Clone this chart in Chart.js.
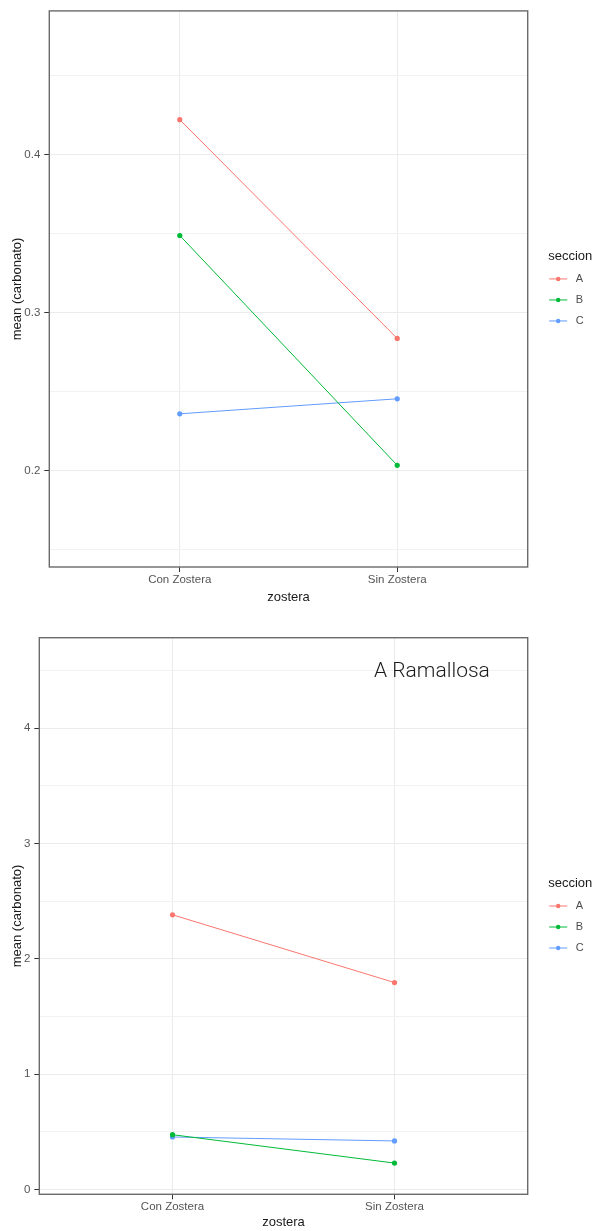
<!DOCTYPE html>
<html>
<head>
<meta charset="utf-8">
<script src="https://cdn.jsdelivr.net/npm/chart.js@4/dist/chart.umd.min.js"></script>
<style>
  html, body { margin: 0; padding: 0; background: #ffffff; }
  body { width: 596px; height: 1231px; position: relative; overflow: hidden; }
  canvas { position: absolute; left: 0; }
  #c1 { top: 0; }
  #c2 { top: 605px; }
</style>
</head>
<body>
<canvas id="c1" width="596" height="605"></canvas>
<canvas id="c2" width="596" height="626"></canvas>
<script>
// ---- data ----
const categories = ['Con Zostera', 'Sin Zostera'];
const seriesNames = ['A', 'B', 'C'];
const seriesColors = ['#F8766D', '#00BA38', '#619CFF'];

// Top chart values
const topA = [0.422, 0.2835];
const topB = [0.3487, 0.2032];
const topC = [0.2358, 0.2453];
// Bottom chart (A Ramallosa) values
const botA = [2.382, 1.794];
const botB = [0.474, 0.228];
const botC = [0.454, 0.420];

// Tick values (major labelled, minor unlabelled)
const topYTicks = [0.15, 0.2, 0.25, 0.3, 0.35, 0.4, 0.45];
const topYLabels = ['', '0.2', '', '0.3', '', '0.4', ''];
const botYTicks = [0, 0.5, 1, 1.5, 2, 2.5, 3, 3.5, 4, 4.5];
const botYLabels = ['0', '', '1', '', '2', '', '3', '', '4', ''];

const xTitle = 'zostera';
const yTitle = 'mean (carbonato)';
const legendTitle = 'seccion';
const panelLabel = 'A Ramallosa';

const FONT = "'Liberation Sans', Arial, sans-serif";

function makeDatasets(values) {
  return values.map((vals, si) => ({
    label: seriesNames[si],
    data: vals.map((v, ci) => ({ x: ci + 1, y: v })),
    borderColor: seriesColors[si],
    backgroundColor: seriesColors[si],
    borderWidth: 1,
    pointRadius: 2.6,
    pointBorderWidth: 0,
    pointBackgroundColor: seriesColors[si],
    tension: 0,
    fill: false
  }));
}

const frameLegendPlugin = {
  id: 'frameLegend',
  afterDraw(chart) {
    const ctx = chart.ctx;
    const a = chart.chartArea;
    // panel border
    ctx.save();
    ctx.strokeStyle = '#6a6a6a';
    ctx.lineWidth = 1.4;
    ctx.strokeRect(a.left, a.top, a.right - a.left, a.bottom - a.top);
    // legend
    const cy = (a.top + a.bottom) / 2;
    const lx = a.right + 20.5;
    ctx.fillStyle = '#1a1a1a';
    ctx.font = '13px ' + FONT;
    ctx.textBaseline = 'middle';
    ctx.textAlign = 'left';
    ctx.fillText(legendTitle, lx, cy - 33);
    chart.data.datasets.forEach((ds, i) => {
      const y = cy - 10 + i * 21;
      ctx.strokeStyle = ds.borderColor;
      ctx.lineWidth = 1;
      ctx.beginPath();
      ctx.moveTo(lx + 1, y);
      ctx.lineTo(lx + 19, y);
      ctx.stroke();
      ctx.fillStyle = ds.borderColor;
      ctx.beginPath();
      ctx.arc(lx + 10, y, 2.2, 0, Math.PI * 2);
      ctx.fill();
      ctx.fillStyle = '#4d4d4d';
      ctx.font = '11px ' + FONT;
      ctx.fillText(ds.label, lx + 27.5, y);
    });
    // optional panel label
    const pl = chart.options.plugins.frameLegend && chart.options.plugins.frameLegend.label;
    if (pl) {
      ctx.fillStyle = '#1a1a1a';
      ctx.font = '300 21px Roboto, ' + FONT;
      ctx.textAlign = 'left';
      ctx.textBaseline = 'middle';
      ctx.fillText(pl.text, pl.x, pl.y);
    }
    ctx.restore();
  }
};

function makeChart(id, values, yMin, yMax, yTicks, yLabels, geom, label) {
  return new Chart(document.getElementById(id), {
    type: 'line',
    data: { datasets: makeDatasets(values) },
    plugins: [frameLegendPlugin],
    options: {
      responsive: false,
      animation: false,
      events: [],
      layout: { padding: { left: 0, top: geom.top, right: geom.right, bottom: 0 } },
      plugins: {
        legend: { display: false },
        tooltip: { enabled: false },
        frameLegend: { label: label }
      },
      scales: {
        x: {
          type: 'linear',
          min: 0.4,
          max: 2.6,
          afterBuildTicks: (s) => { s.ticks = categories.map((c, i) => ({ value: i + 1 })); },
          afterFit: (s) => { s.height = geom.xh; },
          ticks: {
            autoSkip: false,
            maxRotation: 0,
            padding: 1,
            color: '#555555',
            font: { family: FONT, size: 11.5 },
            callback: (v) => categories[Math.round(v) - 1]
          },
          grid: { color: '#ebebeb', lineWidth: 1, tickLength: 5, tickColor: '#333333' },
          border: { display: false },
          title: {
            display: true,
            text: xTitle,
            color: '#1a1a1a',
            font: { family: FONT, size: 13 },
            padding: { top: 0, bottom: geom.xtpad }
          }
        },
        y: {
          type: 'linear',
          min: yMin,
          max: yMax,
          afterBuildTicks: (s) => { s.ticks = yTicks.map(v => ({ value: v })); },
          afterFit: (s) => { s.width = geom.yw; },
          ticks: {
            autoSkip: false,
            padding: 4,
            color: '#555555',
            font: { family: FONT, size: 11.5 },
            callback: (v) => { const i = yTicks.findIndex(t => Math.abs(t - v) < 1e-9); return i >= 0 ? yLabels[i] : ''; }
          },
          grid: {
            lineWidth: 1,
            tickLength: 5,
            color: (c) => { const i = yTicks.findIndex(t => Math.abs(t - c.tick.value) < 1e-9); return (i >= 0 && yLabels[i] !== '') ? '#ebebeb' : '#f2f2f2'; },
            tickColor: (c) => { const i = yTicks.findIndex(t => Math.abs(t - c.tick.value) < 1e-9); return (i >= 0 && yLabels[i] !== '') ? '#333333' : 'rgba(0,0,0,0)'; }
          },
          border: { display: false },
          title: {
            display: true,
            text: yTitle,
            color: '#1a1a1a',
            font: { family: FONT, size: 13 },
            padding: { top: 10, bottom: 0 }
          }
        }
      }
    }
  });
}

makeChart('c1', [topA, topB, topC], 0.1388, 0.4909, topYTicks, topYLabels,
  { top: 10.7, right: 68.3, yw: 49.3, xh: 38, xtpad: 0.2 }, null);

makeChart('c2', [botA, botB, botC], -0.043, 4.786, botYTicks, botYLabels,
  { top: 32.7, right: 68.3, yw: 39.3, xh: 36.7, xtpad: 1.2 },
  { text: panelLabel, x: 374, y: 66.7 });
</script>
</body>
</html>
